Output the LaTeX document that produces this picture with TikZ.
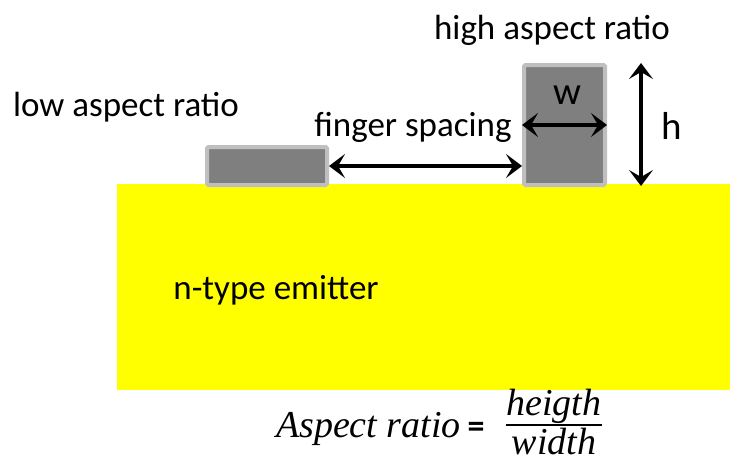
\documentclass[tikz,border=0pt]{standalone}
\usepackage{fontspec}
\setmainfont{Carlito}
\newfontfamily\formulafont{Liberation Serif}
\usetikzlibrary{arrows.meta}
\definecolor{emitter}{HTML}{FFFF00}
\definecolor{metal}{HTML}{7F7F7F}
\definecolor{metalrim}{HTML}{BFBFBF}
\tikzset{
  finger/.style={draw=metalrim, fill=metal, line width=4pt, rounded corners=1.5pt, inner sep=0pt},
  dimarrow/.style={line width=3.6pt, {Stealth[length=16pt,width=24pt,inset=7pt]}-{Stealth[length=16pt,width=24pt,inset=7pt]}},
  lbl/.style={font=\fontsize{35}{40}\selectfont, inner sep=0pt},
  bigl/.style={font=\fontsize{39}{44}\selectfont, inner sep=0pt},
  eqn/.style={font=\formulafont\itshape\fontsize{38}{42}\selectfont, inner sep=0pt}
}
\begin{document}
\begin{tikzpicture}[x=1pt, y=-1pt]
\useasboundingbox (0,0) rectangle (730,464);

% n-type emitter layer
\fill[emitter] (117,184) rectangle (730,390);
\node[lbl] (emit) at (276,290) {n-type emitter};

% metal fingers
\node[finger, minimum width=120pt, minimum height=38pt] (low) at (267,166) {};
\node[finger, minimum width=81pt, minimum height=120pt] (high) at (564.5,125) {};

% labels
\node[lbl] (lowlbl) at (126,107) {low aspect ratio};
\node[lbl] (highlbl) at (552,30) {high aspect ratio};
\node[lbl] (spacelbl) at (413,127) {finger spacing};
\node[bigl] (wlbl) at (567,95) {w};
\node[bigl] (hlbl) at (672,126) {h};

% dimension arrows
\draw[dimarrow] (low.east) -- (high.west |- low.east);
\draw[dimarrow] (high.west) -- (high.east);
\coordinate (htop) at (641,63);
\coordinate (hbot) at (641,186);
\draw[dimarrow] (htop) -- (hbot);

% aspect ratio formula
\node[eqn, anchor=east] (ar) at (461,429) {Aspect ratio};
\node[font=\bfseries\fontsize{34}{38}\selectfont, inner sep=0pt] (eq) at (476,430) {=};
\node[eqn] (num) at (554,406) {heigth};
\node[eqn] (den) at (554,442) {width};
\draw[line width=1.4pt] (num.south west |- 0,425) -- (num.south east |- 0,425);
\end{tikzpicture}
\end{document}
